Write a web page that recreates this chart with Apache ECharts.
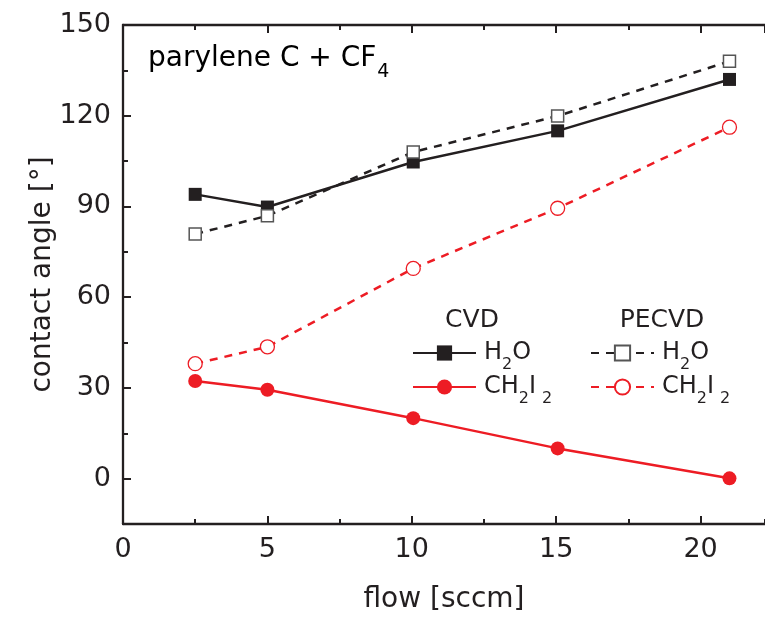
<!DOCTYPE html>
<html>
<head>
<meta charset="utf-8">
<script src="https://cdn.jsdelivr.net/npm/echarts@6/dist/echarts.min.js"></script>
<style>
html,body{margin:0;padding:0;background:#fff;}
#chart{width:765px;height:619px;}
</style>
</head>
<body>
<div id="chart"></div>
<script>
// ---- data ----
const flow = [2.5, 5, 10.05, 15.05, 21];
const cvdH2O = [94.0, 89.8, 104.7, 115.0, 132.0];
const pecvdH2O = [80.9, 86.9, 108.0, 119.9, 138.0];
const cvdCH2I2 = [32.3, 29.4, 20.0, 10.0, 0.1];
const pecvdCH2I2 = [38.0, 43.6, 69.5, 89.4, 116.2];
const xTickStep = 5;     // labelled x ticks: 0, 5, 10, 15, 20
const yTickStep = 30;    // labelled y ticks: 0, 30, ... 150

const FONT = '"DejaVu Sans", "Liberation Sans", Arial, sans-serif';
const BLACK = '#231F20';
const RED = '#ED1C24';

function pairs(xs, ys) { return xs.map((x, i) => [x, ys[i]]); }

const legendNames = {
  'CVD H2O': '{n|H}{s|2}{n|O}',
  'CVD CH2I2': '{n|CH}{s|2}{n|I}{t|2}',
  'PECVD H2O': '{n|H}{s|2}{n|O}',
  'PECVD CH2I2': '{n|CH}{s|2}{n|I}{t|2}'
};
const legendRich = {
  n: { fontSize: 24, fontFamily: FONT, color: BLACK },
  s: { fontSize: 16, padding: [24, 0, 0, 0], fontFamily: FONT, color: BLACK },
  t: { fontSize: 16, padding: [24, 0, 0, 6], fontFamily: FONT, color: BLACK }
};

function legendCfg(left, names) {
  return {
    left: left, top: 336, orient: 'vertical',
    itemWidth: 63, itemHeight: 19, itemGap: 2,
    selectedMode: false,
    data: names,
    formatter: name => legendNames[name],
    textStyle: { fontFamily: FONT, color: BLACK, padding: [0, 0, 0, 3], rich: legendRich }
  };
}

const X_MAX = 22.23;
const GRID = { left: 123, top: 25, width: 642 };

function xAxisCfg(grid, pos, interval, tickLen, withLine, withLabels) {
  const a = {
    type: 'value', gridIndex: grid, position: pos, min: 0, max: X_MAX, interval: interval,
    axisLine: { show: withLine, onZero: false, lineStyle: { color: BLACK, width: 2.3 } },
    axisTick: { show: tickLen > 0, inside: true, length: tickLen, lineStyle: { color: BLACK, width: 2 } },
    splitLine: { show: false },
    axisLabel: { show: false }
  };
  if (withLabels) {
    a.axisLabel = { show: true, fontSize: 27, fontFamily: FONT, color: BLACK, margin: 12, showMaxLabel: false };
    a.name = 'flow [sccm]';
    a.nameLocation = 'middle';
    a.nameGap = 62;
    a.nameTextStyle = { fontSize: 28, fontFamily: FONT, color: BLACK };
  }
  return a;
}

const option = {
  backgroundColor: '#fff',
  animation: false,
  grid: [
    Object.assign({}, GRID, { height: 499 }),          // main plot, y from -15 to 150
    Object.assign({}, GRID, { height: 499 }),          // minor x ticks
    Object.assign({}, GRID, { height: 453.6 })         // major y ticks + labels, 0..150
  ],
  xAxis: [
    xAxisCfg(0, 'bottom', xTickStep, 8, true, true),
    xAxisCfg(0, 'top', xTickStep, 8, true, false),
    xAxisCfg(1, 'bottom', xTickStep / 2, 5, false, false),
    xAxisCfg(1, 'top', xTickStep / 2, 5, false, false),
    { type: 'value', gridIndex: 2, min: 0, max: X_MAX, show: false }
  ],
  yAxis: [
    {
      type: 'value', gridIndex: 0, min: -15, max: 150, interval: yTickStep / 2,
      name: 'contact angle [°]', nameLocation: 'middle', nameGap: 66,
      nameTextStyle: { fontSize: 28, fontFamily: FONT, color: BLACK },
      axisLine: { show: true, onZero: false, lineStyle: { color: BLACK, width: 2.3 } },
      axisTick: { show: true, inside: true, length: 5, lineStyle: { color: BLACK, width: 2 } },
      splitLine: { show: false },
      axisLabel: { show: false }
    },
    { type: 'value', gridIndex: 1, min: -15, max: 150, show: false },
    {
      type: 'value', gridIndex: 2, min: 0, max: 150, interval: yTickStep,
      axisLine: { show: false },
      axisTick: { show: true, inside: true, length: 8, lineStyle: { color: BLACK, width: 2 } },
      splitLine: { show: false },
      axisLabel: { fontSize: 27, fontFamily: FONT, color: BLACK, margin: 12 }
    }
  ],
  legend: [
    legendCfg(407, ['CVD H2O', 'CVD CH2I2']),
    legendCfg(585, ['PECVD H2O', 'PECVD CH2I2'])
  ],
  graphic: [
    {
      type: 'text', left: 148, top: 45,
      style: {
        text: '{n|parylene C + CF}{s|4}',
        rich: {
          n: { fontSize: 28, fontFamily: FONT, color: BLACK },
          s: { fontSize: 19, padding: [26, 0, 0, 1], fontFamily: FONT, color: BLACK }
        }
      }
    },
    {
      type: 'text', x: 472, y: 320,
      style: { text: 'CVD', fontSize: 25, fontFamily: FONT, fill: BLACK, textAlign: 'center', textVerticalAlign: 'middle' }
    },
    {
      type: 'text', x: 662, y: 320,
      style: { text: 'PECVD', fontSize: 25, fontFamily: FONT, fill: BLACK, textAlign: 'center', textVerticalAlign: 'middle' }
    }
  ],
  series: [
    {
      name: 'CVD H2O', type: 'line', data: pairs(flow, cvdH2O),
      symbol: 'rect', symbolSize: 13,
      lineStyle: { color: BLACK, width: 2.5, type: 'solid' },
      itemStyle: { color: BLACK, borderWidth: 0 }
    },
    {
      name: 'CVD CH2I2', type: 'line', data: pairs(flow, cvdCH2I2),
      symbol: 'circle', symbolSize: 14,
      lineStyle: { color: RED, width: 2.5, type: 'solid' },
      itemStyle: { color: RED, borderWidth: 0 }
    },
    {
      name: 'PECVD H2O', type: 'line', data: pairs(flow, pecvdH2O),
      symbol: 'rect', symbolSize: 12,
      lineStyle: { color: BLACK, width: 2.5, type: [8, 7] },
      itemStyle: { color: '#fff', borderColor: '#555', borderWidth: 1.5 }
    },
    {
      name: 'PECVD CH2I2', type: 'line', data: pairs(flow, pecvdCH2I2),
      symbol: 'circle', symbolSize: 14,
      lineStyle: { color: RED, width: 2.5, type: [8, 7] },
      itemStyle: { color: '#fff', borderColor: RED, borderWidth: 1.3 }
    }
  ]
};

const chart = echarts.init(document.getElementById('chart'), null, { renderer: 'canvas' });
chart.setOption(option);
</script>
</body>
</html>
